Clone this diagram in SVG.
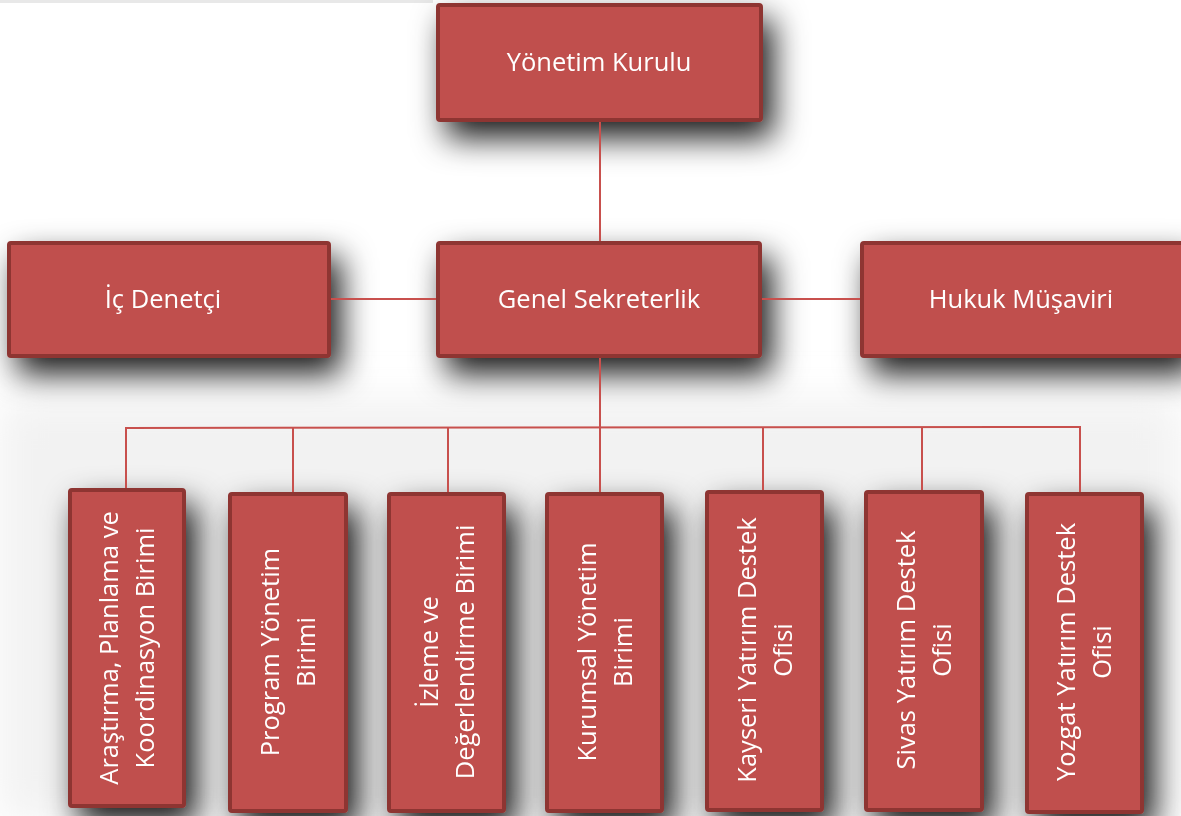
<svg xmlns="http://www.w3.org/2000/svg" width="1181" height="816" viewBox="0 0 1181 816">
<defs>
<filter id="sh" x="-50%" y="-50%" width="210%" height="210%">
<feGaussianBlur in="SourceAlpha" stdDeviation="16"/>
<feOffset dx="10" dy="16" result="b"/>
<feFlood flood-color="#000000" flood-opacity="0.9"/>
<feComposite in2="b" operator="in"/>
<feMerge><feMergeNode/><feMergeNode in="SourceGraphic"/></feMerge>
</filter>
<filter id="soft" x="-50%" y="-100%" width="200%" height="300%"><feGaussianBlur stdDeviation="20"/></filter>
<style>
.box{fill:#C0504D;stroke:#8E3533;stroke-width:4;}
.t{fill:#ffffff;font-family:"Open Sans","Noto Sans","DejaVu Sans",sans-serif;font-size:25.5px;text-anchor:middle;}
.c{stroke:#C8504D;stroke-width:2;fill:none;}
</style>
</defs>
<rect width="1181" height="816" fill="#ffffff"/>
<rect x="0" y="400" width="1181" height="420" fill="#f2f2f2" filter="url(#soft)"/>
<rect x="0" y="0" width="433" height="3" fill="#e8e8e8"/>

<g id="yonetim-kurulu" filter="url(#sh)">
<rect class="box" x="438" y="5" width="323" height="115" rx="2"/>
<text class="t" x="599" y="71">Yönetim Kurulu</text>
</g>
<g id="ic-denetci" filter="url(#sh)">
<rect class="box" x="9" y="243" width="320" height="113" rx="2"/>
<text class="t" x="163" y="308">İç Denetçi</text>
</g>
<g id="genel-sekreterlik" filter="url(#sh)">
<rect class="box" x="438" y="243" width="322" height="113" rx="2"/>
<text class="t" x="599" y="308">Genel Sekreterlik</text>
</g>
<g id="hukuk-musaviri" filter="url(#sh)">
<rect class="box" x="862" y="243" width="322" height="113" rx="2"/>
<text class="t" x="1021" y="308">Hukuk Müşaviri</text>
</g>

<g id="arastirma" filter="url(#sh)">
<rect class="box" x="70" y="490" width="114" height="316" rx="2"/>
<text class="t" transform="translate(127,648) rotate(-90)"><tspan x="0" y="-9">Araştırma, Planlama ve</tspan><tspan x="0" y="27">Koordinasyon  Birimi</tspan></text>
</g>
<g id="program" filter="url(#sh)">
<rect class="box" x="230" y="494" width="116" height="317" rx="2"/>
<text class="t" transform="translate(288,652) rotate(-90)"><tspan x="0" y="-9">Program Yönetim</tspan><tspan x="0" y="27">Birimi</tspan></text>
</g>
<g id="izleme" filter="url(#sh)">
<rect class="box" x="389" y="494" width="115" height="317" rx="2"/>
<text class="t" transform="translate(447,652) rotate(-90)"><tspan x="0" y="-9">İzleme ve</tspan><tspan x="0" y="27">Değerlendirme  Birimi</tspan></text>
</g>
<g id="kurumsal" filter="url(#sh)">
<rect class="box" x="547" y="494" width="115" height="317" rx="2"/>
<text class="t" transform="translate(605,652) rotate(-90)"><tspan x="0" y="-9">Kurumsal Yönetim</tspan><tspan x="0" y="27">Birimi</tspan></text>
</g>
<g id="kayseri" filter="url(#sh)">
<rect class="box" x="707" y="492" width="115" height="318" rx="2"/>
<text class="t" transform="translate(765,650) rotate(-90)"><tspan x="0" y="-9">Kayseri Yatırım Destek</tspan><tspan x="0" y="27">Ofisi</tspan></text>
</g>
<g id="sivas" filter="url(#sh)">
<rect class="box" x="866" y="492" width="116" height="318" rx="2"/>
<text class="t" transform="translate(924,650) rotate(-90)"><tspan x="0" y="-9">Sivas Yatırım Destek</tspan><tspan x="0" y="27">Ofisi</tspan></text>
</g>
<g id="yozgat" filter="url(#sh)">
<rect class="box" x="1027" y="494" width="115" height="318" rx="2"/>
<text class="t" transform="translate(1084,652) rotate(-90)"><tspan x="0" y="-9">Yozgat Yatırım Destek</tspan><tspan x="0" y="27">Ofisi</tspan></text>
</g>

<g id="connectors">
<line class="c" x1="600" y1="122" x2="600" y2="241"/>
<line class="c" x1="331" y1="299" x2="436" y2="299"/>
<line class="c" x1="762" y1="299" x2="860" y2="299"/>
<line class="c" x1="600" y1="358" x2="600" y2="427"/>
<polyline class="c" points="126,488 126,428 1080,427 1080,492"/>
<line class="c" x1="293" y1="428" x2="293" y2="492"/>
<line class="c" x1="448" y1="428" x2="448" y2="492"/>
<line class="c" x1="600" y1="427" x2="600" y2="492"/>
<line class="c" x1="763" y1="427" x2="763" y2="490"/>
<line class="c" x1="922" y1="427" x2="922" y2="490"/>
</g>
</svg>
